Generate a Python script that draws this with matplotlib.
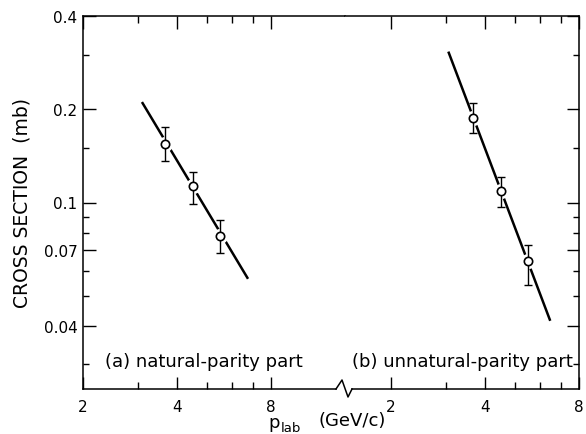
import numpy as np
import matplotlib
matplotlib.use('Agg')
import matplotlib.pyplot as plt
from matplotlib.ticker import NullFormatter
from matplotlib.lines import Line2D

# data
p_lab = [3.65, 4.5, 5.5]  # GeV/c

nat_sigma = [0.155, 0.113, 0.078]
nat_err_hi = [0.175, 0.125, 0.088]
nat_err_lo = [0.1365, 0.099, 0.0686]
nat_fit_x = [3.09, 6.76]
nat_fit_y = [0.211, 0.0567]

unnat_sigma = [0.1875, 0.109, 0.0645]
unnat_err_hi = [0.2095, 0.1212, 0.0731]
unnat_err_lo = [0.1674, 0.0966, 0.054]
unnat_fit_x = [3.05, 6.47]
unnat_fit_y = [0.307, 0.0415]

x_major = [2, 4, 8]
x_minor = [3, 5, 6, 7]
y_major = [0.04, 0.07, 0.1, 0.2, 0.4]
y_major_labels = ['0.04', '0.07', '0.1', '0.2', '0.4']
y_minor = [0.03, 0.05, 0.06, 0.08, 0.09, 0.15, 0.3]

# layout in pixels
W, H = 586, 435
x0, xb, x1 = 83, 345, 579
yt, yb = 17, 390
ppd = 312.0  # px per decade on x

fig = plt.figure(figsize=(W / 100, H / 100), dpi=100)
ax1 = fig.add_axes([x0 / W, (H - yb) / H, (xb - x0) / W, (yb - yt) / H])
ax2 = fig.add_axes([xb / W, (H - yb) / H, (x1 - xb) / W, (yb - yt) / H])

ax1.set_xlim(2, 2 * 10 ** ((xb - x0) / ppd))
ax2.set_xlim(8 / 10 ** ((x1 - xb) / ppd), 8)

def panel(ax, sig, hi, lo, fx, fy):
    ax.set_xscale('log')
    ax.set_yscale('log')
    ax.set_ylim(0.025, 0.4)
    ax.plot(fx, fy, color='black', lw=1.8, solid_capstyle='butt', zorder=2)
    # white gap around circles
    ax.plot(p_lab, sig, 'o', ms=11, mfc='white', mec='none', zorder=3)
    sig = np.array(sig)
    yerr = [sig - np.array(lo), np.array(hi) - sig]
    ax.errorbar(p_lab, sig, yerr=yerr, fmt='none', ecolor='black',
                elinewidth=1.0, capsize=3, capthick=1.0, zorder=4)
    ax.plot(p_lab, sig, 'o', ms=6, mfc='white', mec='black', mew=1.2, zorder=5)

    ax.set_xticks(x_major, [str(v) for v in x_major])
    ax.set_xticks(x_minor, minor=True)
    ax.xaxis.set_minor_formatter(NullFormatter())
    ax.set_yticks(y_major, y_major_labels)
    ax.set_yticks(y_minor, minor=True)
    ax.yaxis.set_minor_formatter(NullFormatter())
    ax.tick_params(axis='x', which='major', direction='in', length=9, width=1,
                   top=True, bottom=True, labelsize=11, pad=7)
    ax.tick_params(axis='x', which='minor', direction='in', length=5, width=1,
                   top=True, bottom=True)
    ax.tick_params(axis='y', which='major', direction='in', length=9, width=1,
                   labelsize=11, pad=4)
    ax.tick_params(axis='y', which='minor', direction='in', length=4.5, width=1)
    for s in ax.spines.values():
        s.set_linewidth(1.1)

panel(ax1, nat_sigma, nat_err_hi, nat_err_lo, nat_fit_x, nat_fit_y)
panel(ax2, unnat_sigma, unnat_err_hi, unnat_err_lo, unnat_fit_x, unnat_fit_y)

ax1.spines['right'].set_visible(False)
ax2.spines['left'].set_visible(False)
ax1.tick_params(axis='y', which='both', left=True, right=False)
ax2.tick_params(axis='y', which='both', left=False, right=True,
                labelleft=False, labelright=False)

# broken bottom axis
ax1.spines['bottom'].set_bounds(2, 2 * 10 ** ((336 - x0) / ppd))
ax2.spines['bottom'].set_bounds(8 / 10 ** ((x1 - 352) / ppd), 8)
zx = np.array([336, 342, 348, 352]) / W
zy = 1 - np.array([390, 381, 398, 390]) / H
fig.add_artist(Line2D(zx, zy, color='black', lw=1.1, transform=fig.transFigure))

fig.text(105 / W, 1 - 362 / H, '(a) natural-parity part', fontsize=13,
         ha='left', va='center')
fig.text(352 / W, 1 - 362 / H, '(b) unnatural-parity part', fontsize=13,
         ha='left', va='center')

fig.text(22 / W, 1 - 203 / H, 'CROSS SECTION  (mb)', fontsize=13.5,
         rotation=90, ha='center', va='center')
fig.text(268 / W, 1 - 428 / H, 'p', fontsize=13, ha='left', va='baseline')
fig.text(281 / W, 1 - 432 / H, 'lab', fontsize=9.5, ha='left', va='baseline')
fig.text(352 / W, 1 - 421 / H, '(GeV/c)', fontsize=13, ha='center', va='center')

fig.savefig('out.png', dpi=100)
